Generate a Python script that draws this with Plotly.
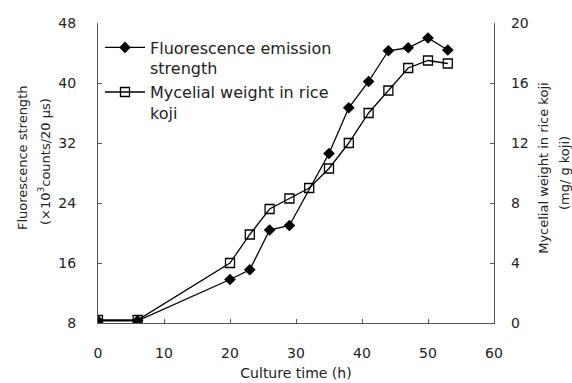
import plotly.graph_objects as go

fl_time = [0, 6, 20, 23, 26, 29, 35, 38, 41, 44, 47, 50, 53]
fl_strength = [8.3, 8.3, 13.8, 15.1, 20.4, 21.0, 30.6, 36.7, 40.2, 44.3, 44.7, 46.0, 44.4]

my_time = [0, 6, 20, 23, 26, 29, 32, 35, 38, 41, 44, 47, 50, 53]
my_weight = [0.2, 0.2, 4.0, 5.9, 7.6, 8.3, 9.0, 10.3, 12.0, 14.0, 15.5, 17.0, 17.5, 17.3]

FONT = "DejaVu Sans"
fig = go.Figure()
fig.add_trace(go.Scatter(
    x=fl_time, y=fl_strength, name="Fluorescence emission<br>strength",
    mode="lines+markers", line=dict(color="black", width=1.3),
    marker=dict(symbol="diamond", size=9, color="black"), yaxis="y"))
fig.add_trace(go.Scatter(
    x=my_time, y=my_weight, name="Mycelial weight in rice<br>koji",
    mode="lines+markers", line=dict(color="black", width=1.3),
    marker=dict(symbol="square-open", size=9, color="black", line=dict(width=1.3)), yaxis="y2"))

axis_common = dict(showgrid=False, zeroline=False, showline=True, linecolor="#555", linewidth=1.2,
                   ticks="inside", ticklen=4, tickcolor="#555", automargin=False,
                   tickfont=dict(family=FONT, size=14, color="#222"))

title_font = dict(family=FONT, size=13, color="#222")
annotations = [
    dict(text="Fluorescence strength", x=-0.192, y=0.553, textangle=-90),
    dict(text="(×10<sup>3</sup>counts/20 μs)", x=-0.136, y=0.537, textangle=-90),
    dict(text="Mycelial weight in rice koji", x=1.126, y=0.517, textangle=-90),
    dict(text="(mg/ g koji)", x=1.177, y=0.5, textangle=-90),
]
for a in annotations:
    a.update(xref="paper", yref="paper", showarrow=False, xanchor="center", yanchor="middle", font=title_font)

fig.update_layout(
    width=572, height=383, margin=dict(l=98, r=78, t=23, b=60),
    paper_bgcolor="white", plot_bgcolor="white",
    font=dict(family=FONT, size=13, color="#222"),
    xaxis=dict(range=[0, 60], dtick=10, ticklabelstandoff=17,
               title=dict(text="Culture time (h)", font=dict(size=14), standoff=8), **axis_common),
    yaxis=dict(range=[8, 48], dtick=8, ticklabelstandoff=18, **axis_common),
    yaxis2=dict(range=[0, 20], dtick=4, overlaying="y", side="right", ticklabelstandoff=13, **axis_common),
    annotations=annotations,
    legend=dict(x=0.005, y=0.975, xanchor="left", yanchor="top", bgcolor="rgba(0,0,0,0)",
                font=dict(family=FONT, size=16, color="#222"), valign="top", tracegroupgap=0,
                itemwidth=40),
    showlegend=True,
)
fig.write_html("out.html")
